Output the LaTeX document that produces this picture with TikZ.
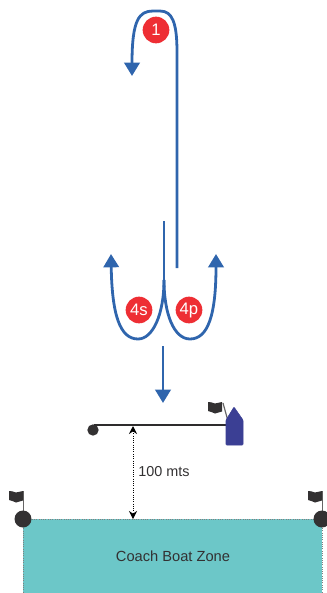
\documentclass[tikz,border=0pt]{standalone}
\usepackage{fontspec}
\setmainfont{Liberation Sans}
\usetikzlibrary{arrows.meta}
\definecolor{course}{HTML}{2F65AD}
\definecolor{mark}{HTML}{EE2E34}
\definecolor{boat}{HTML}{3B3F94}
\definecolor{zone}{HTML}{6CC7C8}
\definecolor{ink}{HTML}{333132}
\tikzset{
  leg/.style={line width=2.1pt, draw=course},
  legtip/.style={leg, -{Triangle[length=10pt,width=11.5pt]}},
  mark circle/.style={circle, fill=mark, text=white, minimum size=20pt, inner sep=0pt, font=\fontsize{12.5pt}{13pt}\selectfont},
  buoy/.style={circle, fill=ink, inner sep=0pt},
  flag pole/.style={line width=0.7pt, draw=ink!75},
  flag cloth/.style={fill=ink, draw=none},
}
% flag with its top left corner at (#1,#2)
\newcommand\FlagCloth[2]{
  \fill[flag cloth, shift={(#1,#2)}] (0,0) .. controls (3,-1) and (4,1.5) .. (7,1.5) .. controls (10,1.5) and (11,0) .. (14,0)
    -- (14,9.5) .. controls (11,9.5) and (10,11.5) .. (7,11.5) .. controls (4,11.5) and (3,8.5) .. (0,9) -- cycle;
}
\begin{document}
\begin{tikzpicture}[x=0.75pt, y=-0.75pt]

\useasboundingbox (0,0) rectangle (327,593);
\clip (0,0) rectangle (327,593);

\def\Xline{164}
\def\Xbeat{177}
\def\Yturn{287}

% zone
\node[fill=zone, draw=gray, densely dotted, line width=0.7pt, minimum width=224.25pt, minimum height=60pt,
  inner sep=0pt, anchor=north west] (zone) at (23,519) {};
\node[text=ink, font=\fontsize{11pt}{12pt}\selectfont] (zonetext) at (173,556) {Coach Boat Zone};

% pin end flags
\draw[flag pole] (23,519) -- (23,491);
\draw[flag pole] (322,519) -- (322,491);
\FlagCloth{9}{491}
\FlagCloth{308}{491}
\node[buoy, minimum size=12.75pt] (pinL) at (23,519) {};
\node[buoy, minimum size=12.75pt] (pinR) at (322,519) {};

% start line
\node[buoy, minimum size=8.5pt] (pin) at (93,430) {};
\coordinate (lineL) at (94,425);
\coordinate (lineR) at (228,425);
\draw[line width=1.7pt, ink!90!black] (lineL) -- (lineR);
\draw[flag pole, line width=0.9pt] (228,421) -- (223,403);
\FlagCloth{208}{402}
\filldraw[fill=boat, draw=boat, rounded corners=0.6pt] (226,445) -- (226,420) -- (234,407) -- (243,420) -- (243,445) -- cycle;
\coordinate (boatbow) at (234,408);

% distance
\coordinate (lineA) at (133,426);
\coordinate (zoneA) at (133,519);
\draw[densely dotted, line width=0.7pt, {Stealth[length=6pt,width=6pt]}-{Stealth[length=6pt,width=6pt]}] (lineA) -- (zoneA);
\node[text=ink, font=\fontsize{10.8pt}{12pt}\selectfont] (dist) at (164,472) {100 mts};

% course
\draw[legtip] (\Xbeat,268) -- (\Xbeat,52) .. controls (\Xbeat,22) and (172,11) .. (160,11)
  -- (153,11) .. controls (139,11) and (132,20) .. (132,76);
\draw[leg] (\Xline,221) -- (\Xline,\Yturn);
\draw[legtip] (\Xline,280) .. controls (\Xline,314) and (153,339) .. (138,339)
  .. controls (120,339) and (112,315) .. (111,254);
\draw[legtip] (\Xline,280) .. controls (\Xline,314) and (174,339) .. (190,339)
  .. controls (208,339) and (216,315) .. (216,254);
\draw[legtip] (163,346) -- (163,403);

% rounding numbers
\node[mark circle] (m1) at (156,30) {1};
\node[mark circle] (m4s) at (139,310) {4s};
\node[mark circle] (m4p) at (189,310) {4p};

\end{tikzpicture}
\end{document}
